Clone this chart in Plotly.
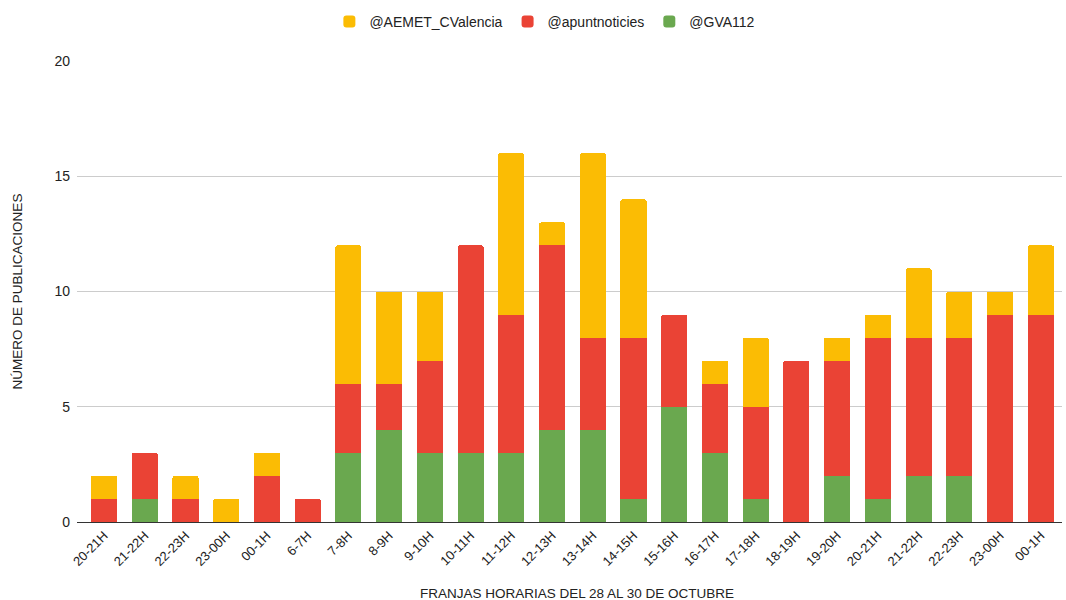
import plotly.graph_objects as go

categories = ["20-21H", "21-22H", "22-23H", "23-00H", "00-1H", "6-7H", "7-8H", "8-9H",
              "9-10H", "10-11H", "11-12H", "12-13H", "13-14H", "14-15H", "15-16H", "16-17H",
              "17-18H", "18-19H", "19-20H", "20-21H", "21-22H", "22-23H", "23-00H", "00-1H"]
gva112 = [0, 1, 0, 0, 0, 0, 3, 4, 3, 3, 3, 4, 4, 1, 5, 3, 1, 0, 2, 1, 2, 2, 0, 0]
apunt = [1, 2, 1, 0, 2, 1, 3, 2, 4, 9, 6, 8, 4, 7, 4, 3, 4, 7, 5, 7, 6, 6, 9, 9]
aemet = [1, 0, 1, 1, 1, 0, 6, 4, 3, 0, 7, 1, 8, 6, 0, 1, 3, 0, 1, 1, 3, 2, 1, 3]

x = list(range(len(categories)))
FONT = "Liberation Sans, Arial, sans-serif"

fig = go.Figure()
fig.add_trace(go.Bar(x=x, y=gva112, name="@GVA112", marker=dict(color="#6AA84F", line_width=0)))
fig.add_trace(go.Bar(x=x, y=apunt, name="@apuntnoticies", marker=dict(color="#EA4335", line_width=0)))
fig.add_trace(go.Bar(x=x, y=aemet, name="@AEMET_CValencia", marker=dict(color="#FBBC04", line_width=0)))

fig.update_layout(
    barmode="stack",
    bargap=0.36,
    barcornerradius=2,
    width=1066, height=600,
    margin=dict(l=77, r=4, t=61, b=78, autoexpand=False),
    paper_bgcolor="white", plot_bgcolor="white",
    font=dict(family=FONT, size=13, color="#222222"),
    legend=dict(orientation="h", x=0.475, xanchor="center", y=1.085, yanchor="middle",
                traceorder="reversed", font=dict(size=14, color="#222222")),
    xaxis=dict(
        tickmode="array", tickvals=x, ticktext=categories, automargin=False,
        range=[-0.663, 23.52], tickangle=-45, tickfont=dict(size=13),
        showgrid=False, showline=True, linecolor="#333333", linewidth=1,
        ticks="", zeroline=False,
    ),
    yaxis=dict(
        range=[0, 20], tickvals=[0, 5, 10, 15, 20], showgrid=True, gridcolor="#cccccc",
        zeroline=False, showline=False, ticks="", tickfont=dict(size=14), automargin=False,
        ticklabelstandoff=6,
    ),
    annotations=[
        dict(text="NÚMERO DE PUBLICACIONES", xref="paper", yref="paper", x=-0.06, y=0.5,
             xanchor="center", yanchor="middle", textangle=-90, showarrow=False,
             font=dict(size=13.5, color="#222222", family=FONT)),
        dict(text="FRANJAS HORARIAS DEL 28 AL 30 DE OCTUBRE", xref="paper", yref="paper",
             x=0.508, y=-0.156, xanchor="center", yanchor="middle", showarrow=False,
             font=dict(size=13.5, color="#222222", family=FONT)),
    ],
)

fig.write_html("out.html", config={"displayModeBar": False},
               post_script="document.body.style.margin='0';document.body.style.overflow='hidden';")
